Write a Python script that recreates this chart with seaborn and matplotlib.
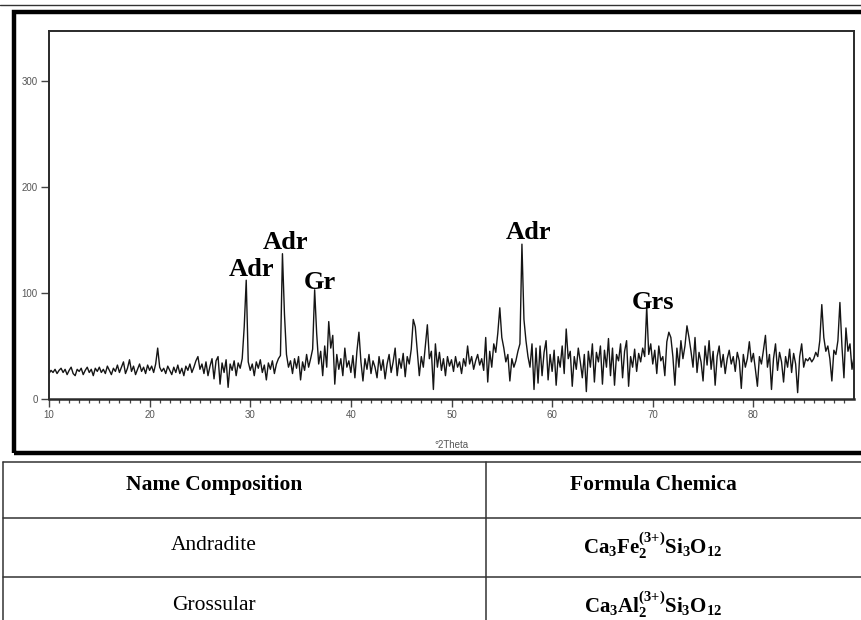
import numpy as np
import pandas as pd
import matplotlib
matplotlib.use("Agg")
import matplotlib.pyplot as plt
from matplotlib.patches import Rectangle
from matplotlib.lines import Line2D
import seaborn as sns

# ---------------- data ----------------
scan_start, scan_step = 10.0, 0.2

counts_10_20 = [24, 27, 25, 28, 24, 27, 29, 25, 28, 23,
                27, 30, 24, 22, 28, 26, 29, 23, 27, 30,
                25, 28, 22, 29, 26, 30, 25, 28, 24, 31,
                27, 23, 29, 26, 32, 25, 30, 35, 24, 29,
                37, 26, 31, 23, 28, 33, 26, 30, 24, 32]
counts_20_30 = [27, 31, 25, 33, 48, 30, 26, 29, 24, 31,
                27, 23, 30, 25, 32, 24, 29, 22, 31, 27,
                33, 25, 30, 36, 40, 28, 33, 24, 35, 22,
                31, 38, 19, 36, 40, 14, 34, 25, 37, 11,
                33, 27, 36, 22, 34, 29, 38, 68, 112, 35]
counts_30_40 = [27, 33, 22, 35, 29, 37, 25, 32, 18, 34,
                28, 36, 24, 33, 38, 41, 137, 80, 42, 30,
                36, 24, 38, 29, 40, 18, 35, 27, 42, 30,
                38, 47, 103, 62, 33, 45, 22, 50, 30, 73,
                48, 60, 14, 42, 28, 38, 22, 48, 30, 36]
counts_40_50 = [25, 41, 20, 45, 63, 35, 17, 38, 28, 42,
                24, 36, 30, 20, 40, 27, 37, 19, 33, 42,
                25, 35, 48, 22, 38, 29, 43, 21, 40, 33,
                47, 75, 68, 45, 22, 40, 30, 50, 70, 38,
                45, 9, 52, 30, 44, 27, 38, 22, 40, 31]
counts_50_60 = [37, 26, 40, 30, 35, 24, 38, 31, 50, 33,
                40, 28, 36, 42, 32, 38, 27, 58, 16, 45,
                30, 52, 44, 62, 86, 58, 48, 35, 42, 17,
                38, 30, 36, 45, 52, 146, 75, 55, 40, 30,
                52, 9, 48, 15, 50, 22, 44, 55, 18, 42]
counts_60_70 = [26, 46, 13, 40, 30, 50, 24, 66, 38, 45,
                12, 40, 28, 48, 35, 20, 42, 7, 45, 30,
                52, 16, 44, 35, 50, 14, 46, 30, 57, 22,
                48, 13, 42, 36, 52, 20, 45, 55, 12, 40,
                30, 47, 26, 43, 35, 48, 40, 87, 42, 52]
counts_70_80 = [33, 46, 24, 50, 36, 40, 22, 54, 63, 58,
                40, 13, 48, 30, 55, 38, 50, 69, 58, 45,
                30, 58, 25, 44, 35, 17, 50, 32, 55, 28,
                45, 13, 40, 50, 30, 42, 24, 38, 46, 33,
                40, 26, 44, 36, 10, 42, 30, 38, 54, 35]
counts_80_90 = [43, 28, 12, 40, 33, 46, 60, 30, 42, 9,
                38, 52, 27, 44, 35, 16, 40, 30, 47, 25,
                43, 33, 6, 40, 52, 30, 38, 36, 39, 35,
                38, 44, 40, 55, 89, 58, 45, 50, 38, 17,
                46, 42, 55, 91, 50, 20, 67, 45, 52, 28, 40]

x_ticks = [10, 20, 30, 40, 50, 60, 70, 80]
y_ticks = [0, 100, 200, 300]
x_label = "°2Theta"

peak_labels = ["Adr", "Adr", "Gr", "Adr", "Grs"]
peak_label_x = [30.1, 33.5, 36.9, 57.7, 70.05]
peak_label_y = [116, 141, 104, 151, 85]

table_header = ["Name Composition", "Formula Chemica"]
table_names = ["Andradite", "Grossular"]
table_formulas = [r"$\mathbf{Ca_3Fe_2^{(3{+})}Si_3O_{12}}$",
                  r"$\mathbf{Ca_3Al_2^{(3{+})}Si_3O_{12}}$"]

# ---------------- build frame ----------------
counts = (counts_10_20 + counts_20_30 + counts_30_40 + counts_40_50 +
          counts_50_60 + counts_60_70 + counts_70_80 + counts_80_90)
two_theta = scan_start + scan_step * np.arange(len(counts))
df = pd.DataFrame({"two_theta": two_theta, "intensity": counts})

# ---------------- style ----------------
sns.set_theme(style="white")
plt.rcParams["font.family"] = ["Liberation Sans", "DejaVu Sans"]
plt.rcParams["text.color"] = "black"
plt.rcParams["mathtext.fontset"] = "custom"
plt.rcParams["mathtext.rm"] = "Liberation Serif"
plt.rcParams["mathtext.bf"] = "Liberation Serif:bold"
plt.rcParams["mathtext.it"] = "Liberation Serif:italic"

W, H = 861, 620
fig = plt.figure(figsize=(W / 100, H / 100), dpi=100)
fig.patch.set_facecolor("white")

def fx(px):
    return px / W

def fy(py):
    return 1 - py / H

ax = fig.add_axes([fx(49), fy(399), (854 - 49) / W, (399 - 31) / H])
sns.lineplot(data=df, x="two_theta", y="intensity", ax=ax, color="#151515",
             linewidth=1.0, estimator=None, sort=False)

ax.set_xlim(10, 90)
ax.set_ylim(0, 347)
ax.set_xticks(x_ticks)
ax.set_xticks(np.arange(11, 90, 1), minor=True)
ax.set_yticks(y_ticks)
ax.set_xticklabels([str(v) for v in x_ticks])
ax.set_yticklabels([str(v) for v in y_ticks])
ax.tick_params(axis="both", which="major", direction="out", length=6, width=1.0,
               color="#444444", labelsize=7, labelcolor="#555555", pad=2,
               bottom=True, left=True)
ax.tick_params(axis="x", which="minor", direction="out", length=3, width=0.9,
               color="#444444", bottom=True)
ax.set_xlabel(x_label, fontsize=7, color="#555555", labelpad=14)
ax.set_ylabel("")
for sp in ax.spines.values():
    sp.set_color("#2a2a2a")
    sp.set_linewidth(1.4)
ax.spines["bottom"].set_linewidth(1.8)

for lab, lx, ly in zip(peak_labels, peak_label_x, peak_label_y):
    ax.text(lx, ly, lab, ha="center", va="baseline", fontsize=19,
            fontweight="bold", family="Liberation Serif", color="black")

# ---------------- frame lines ----------------
fig.add_artist(Line2D([0, 1], [fy(5), fy(5)], color="#333333", linewidth=1.0))
fig.add_artist(Rectangle((fx(14), fy(453)), fx(900) - fx(14), fy(12) - fy(453),
                         fill=False, edgecolor="black", linewidth=3.2,
                         transform=fig.transFigure))

# ---------------- table ----------------
tc = "#333333"
for yy in [462, 518, 577]:
    fig.add_artist(Line2D([fx(3), 1.0], [fy(yy), fy(yy)], color=tc, linewidth=1.1))
for xx in [3, 486]:
    fig.add_artist(Line2D([fx(xx), fx(xx)], [fy(462), 0.0], color=tc, linewidth=1.1))

fig.text(fx(214), fy(485), table_header[0], ha="center", va="center",
         fontsize=15.5, fontweight="bold", family="Liberation Serif", color="black")
fig.text(fx(653), fy(485), table_header[1], ha="center", va="center",
         fontsize=15.5, fontweight="bold", family="Liberation Serif", color="black")
for name, formula, yy in zip(table_names, table_formulas, [546, 605]):
    fig.text(fx(214), fy(yy), name, ha="center", va="center",
             fontsize=15.5, family="Liberation Serif", color="black")
    fig.text(fx(653), fy(yy), formula, ha="center", va="center", fontsize=15,
             color="black")

fig.savefig("out.png", dpi=100, facecolor="white")
